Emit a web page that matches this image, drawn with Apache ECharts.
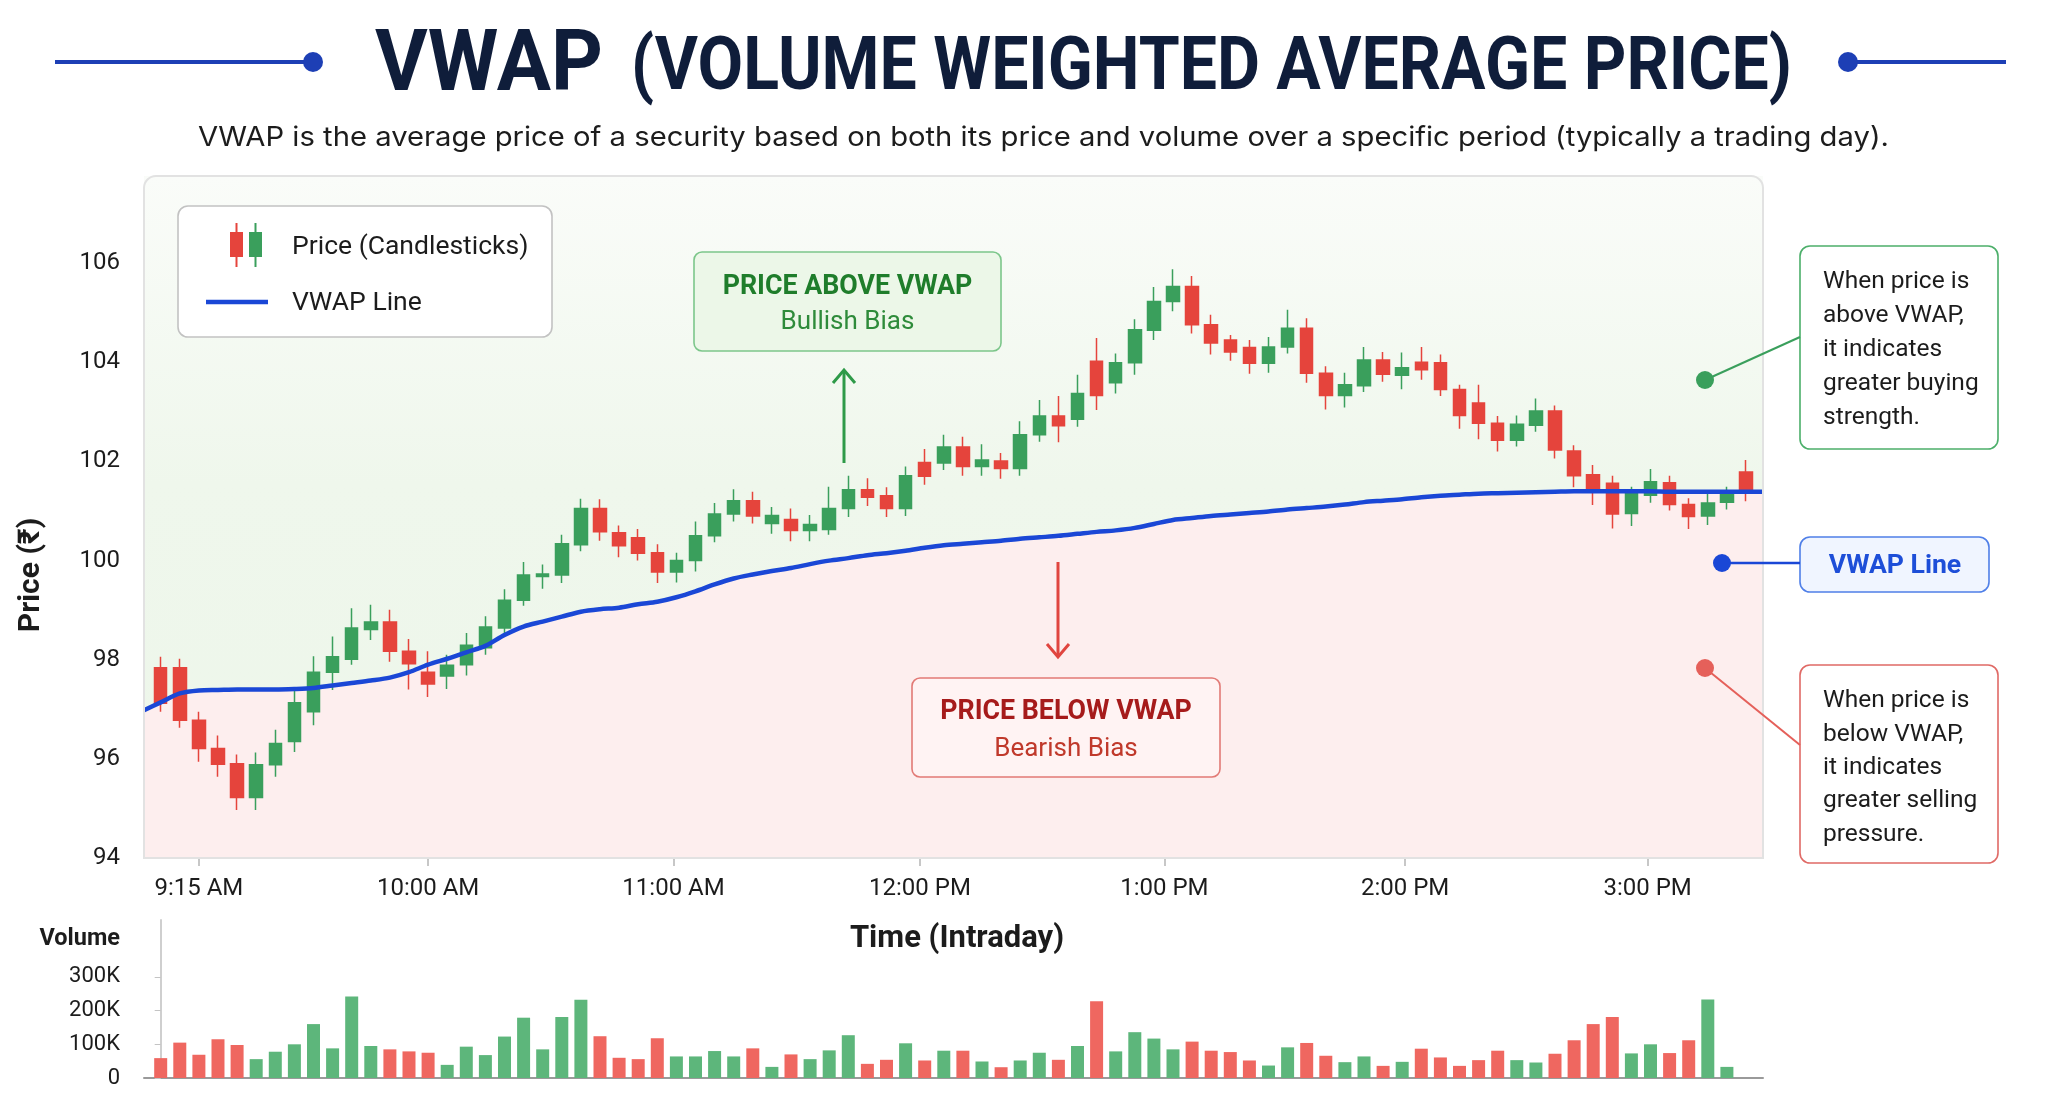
<!DOCTYPE html>
<html>
<head>
<meta charset="utf-8">
<title>VWAP</title>
<script src="https://cdn.jsdelivr.net/npm/echarts@6/dist/echarts.min.js"></script>
<style>
  html, body { margin: 0; padding: 0; background: #fff; }
  #chart { width: 2048px; height: 1098px; }
</style>
</head>
<body>
<div id="chart"></div>
<script>
// candles, one per slot (index 0 = first candle of the day)
var openP  = [97.84, 97.84, 96.78, 96.21, 95.90, 95.22, 95.88, 96.35, 96.95, 97.75,
              98.01, 98.61, 98.76, 98.17, 97.75, 97.67, 97.90, 98.24, 98.64, 99.20,
              99.68, 99.71, 100.32, 101.05, 100.56, 100.46, 100.16, 99.77, 100.00, 100.50,
              100.94, 101.21, 100.75, 100.83, 100.61, 100.63, 101.05, 101.43, 101.31, 101.05,
              101.98, 101.97, 102.29, 101.90, 102.01, 101.86, 102.54, 102.92, 102.85, 104.02,
              103.59, 103.99, 104.65, 105.23, 105.53, 104.76, 104.45, 104.30, 103.98, 104.31,
              104.69, 103.78, 103.33, 103.53, 104.05, 103.74, 104.00, 103.99, 103.45, 103.18,
              102.77, 102.43, 102.73, 103.02, 102.21, 101.73, 101.56, 100.95, 101.32, 101.57,
              101.13, 100.90, 101.18, 101.79];
var closeP = [97.12, 96.78, 96.21, 95.89, 95.22, 95.88, 96.31, 97.13, 97.75, 98.06,
              98.64, 98.76, 98.17, 97.92, 97.51, 97.89, 98.29, 98.66, 99.20, 99.71,
              99.73, 100.34, 101.05, 100.58, 100.30, 100.15, 99.77, 100.00, 100.50, 100.94,
              101.21, 100.90, 100.91, 100.61, 100.73, 101.05, 101.43, 101.28, 101.05, 101.71,
              101.70, 102.29, 101.90, 102.03, 101.86, 102.54, 102.92, 102.72, 103.37, 103.33,
              103.99, 104.66, 105.23, 105.53, 104.76, 104.39, 104.21, 103.98, 104.31, 104.69,
              103.78, 103.33, 103.55, 104.05, 103.76, 103.89, 103.85, 103.45, 102.93, 102.77,
              102.43, 102.75, 103.02, 102.23, 101.71, 101.39, 100.94, 101.37, 101.59, 101.13,
              100.89, 101.16, 101.37, 101.36];
var lowP   = [96.95, 96.63, 95.94, 95.64, 94.97, 94.97, 95.64, 96.14, 96.68, 97.39,
              97.90, 98.40, 97.96, 97.40, 97.25, 97.41, 97.68, 98.10, 98.49, 99.09,
              99.43, 99.55, 100.19, 100.40, 100.07, 100.00, 99.55, 99.56, 99.78, 100.37,
              100.79, 100.75, 100.54, 100.39, 100.39, 100.52, 100.88, 101.10, 100.88, 100.90,
              101.53, 101.83, 101.71, 101.71, 101.65, 101.71, 102.40, 102.39, 102.70, 103.04,
              103.37, 103.75, 104.45, 105.03, 104.58, 104.16, 104.03, 103.77, 103.79, 104.18,
              103.59, 103.05, 103.09, 103.40, 103.61, 103.46, 103.65, 103.32, 102.66, 102.45,
              102.20, 102.30, 102.60, 102.06, 101.48, 101.12, 100.65, 100.70, 101.17, 101.01,
              100.64, 100.72, 101.03, 101.20];
var highP  = [98.06, 98.02, 96.95, 96.47, 96.09, 96.13, 96.59, 97.45, 98.07, 98.47,
              99.04, 99.11, 99.01, 98.42, 98.17, 98.10, 98.54, 98.88, 99.42, 99.97,
              99.92, 100.52, 101.25, 101.24, 100.71, 100.64, 100.33, 100.16, 100.79, 101.16,
              101.44, 101.39, 101.08, 101.05, 100.92, 101.49, 101.71, 101.66, 101.48, 101.90,
              102.25, 102.54, 102.50, 102.35, 102.17, 102.81, 103.24, 103.32, 103.75, 104.49,
              104.18, 104.87, 105.52, 105.88, 105.74, 104.96, 104.55, 104.45, 104.51, 105.06,
              104.89, 103.92, 103.79, 104.31, 104.21, 104.20, 104.31, 104.16, 103.55, 103.55,
              102.92, 102.93, 103.27, 103.13, 102.33, 101.93, 101.71, 101.49, 101.85, 101.71,
              101.26, 101.36, 101.49, 102.03];

// running VWAP at each candle, plus its value at the left / right plot edges
var vwap = [97.14, 97.32, 97.38, 97.39, 97.40, 97.40, 97.40, 97.41, 97.43, 97.48,
            97.53, 97.58, 97.64, 97.75, 97.90, 98.02, 98.15, 98.28, 98.50, 98.67,
            98.77, 98.87, 98.97, 99.02, 99.05, 99.12, 99.17, 99.26, 99.38, 99.52,
            99.64, 99.72, 99.79, 99.85, 99.93, 100.00, 100.05, 100.11, 100.15, 100.20,
            100.26, 100.31, 100.34, 100.37, 100.40, 100.44, 100.47, 100.50, 100.54, 100.58,
            100.61, 100.66, 100.74, 100.82, 100.86, 100.90, 100.93, 100.96, 100.99, 101.03,
            101.06, 101.09, 101.13, 101.18, 101.21, 101.24, 101.28, 101.31, 101.33, 101.35,
            101.36, 101.37, 101.38, 101.39, 101.40, 101.40, 101.40, 101.40, 101.40, 101.39,
            101.39, 101.39, 101.39, 101.39];
var vwapEdges = [96.98, 101.39];

// volume in thousands (the last candle has no bar)
var volumeK = [59, 105, 69, 115, 98, 56, 78, 100, 160, 88,
               242, 95, 85, 79, 75, 39, 93, 68, 123, 179,
               85, 181, 232, 124, 60, 56, 118, 64, 64, 80,
               64, 88, 33, 70, 56, 82, 127, 42, 54, 103,
               52, 81, 81, 49, 32, 52, 75, 54, 95, 228,
               79, 136, 117, 85, 108, 81, 77, 52, 37, 91,
               104, 66, 47, 64, 36, 48, 87, 61, 36, 53,
               81, 53, 46, 72, 112, 160, 181, 73, 100, 74,
               112, 233, 33];

// time labels and where they sit (in candle slots)
var tickPos = [2.0, 14.0, 26.85, 39.75, 52.55, 65.15, 77.85];
var tickLabels = ['9:15 AM', '10:00 AM', '11:00 AM', '12:00 PM', '1:00 PM', '2:00 PM', '3:00 PM'];
var priceTicks = [94, 96, 98, 100, 102, 104, 106];
var volumeTicks = [0, 100000, 200000, 300000];

var FONT = 'Roboto, "Noto Sans", "DejaVu Sans", sans-serif';
var UP = '#3a9f5c', DOWN = '#e5443c';
var VOL_UP = '#5db67b', VOL_DOWN = '#ef6760';
var BLUE = '#1a47d6';
var NAVY = '#0f1d3a';
var XMIN = -0.874, XMAX = 83.89;

var chart = echarts.init(document.getElementById('chart'));

var candleData = openP.map(function (o, i) {
  return [i, o, closeP[i], lowP[i], highP[i]];
});
var vwapData = [[XMIN, vwapEdges[0]]]
  .concat(vwap.map(function (v, i) { return [i, v]; }))
  .concat([[XMAX, vwapEdges[1]]]);
var volData = volumeK.map(function (v, i) {
  return { value: [i, v * 1000], itemStyle: { color: closeP[i] >= openP[i] ? VOL_UP : VOL_DOWN } };
});

var measureCtx = document.createElement('canvas').getContext('2d');
function textWidth(s, font) {
  measureCtx.font = font;
  return measureCtx.measureText(s).width;
}

function txt(x, y, text, font, fill, align, extra) {
  var el = {
    type: 'text', x: x, y: y, z: 60,
    style: { text: text, font: font, fill: fill, align: align || 'center', verticalAlign: 'middle' }
  };
  if (extra) { for (var k in extra) el[k] = extra[k]; }
  return el;
}
// left-aligned text squeezed / stretched to a given width
function fitTxt(x, y, text, font, fill, width) {
  return txt(x, y, text, font, fill, 'left', { scaleX: width / textWidth(text, font) });
}
function box(x, y, w, h, fill, stroke, r) {
  return {
    type: 'rect', z: 55,
    shape: { x: x, y: y, width: w, height: h, r: r || 10 },
    style: { fill: fill, stroke: stroke, lineWidth: 1.6 }
  };
}
function seg(x1, y1, x2, y2, color, w) {
  return { type: 'line', z: 58, shape: { x1: x1, y1: y1, x2: x2, y2: y2 }, style: { stroke: color, lineWidth: w || 2 } };
}
function dot(cx, cy, r, color) {
  return { type: 'circle', z: 59, shape: { cx: cx, cy: cy, r: r }, style: { fill: color } };
}
function arrow(x, y1, y2, color) {
  var d = y2 < y1 ? 1 : -1;
  return [
    seg(x, y1, x, y2, color, 3),
    { type: 'polyline', z: 58, shape: { points: [[x - 11, y2 + 13 * d], [x, y2], [x + 11, y2 + 13 * d]] },
      style: { stroke: color, lineWidth: 3, fill: null } }
  ];
}

var graphics = [
  // title
  seg(55, 62, 305, 62, '#1d3fb5', 4), dot(313, 62, 10, '#1d3fb5'),
  dot(1848, 62, 10, '#1d3fb5'), seg(1856, 62, 2006, 62, '#1d3fb5', 4),
  fitTxt(375, 68, 'VWAP', 'bold 86px Roboto', NAVY, 228),
  fitTxt(631, 70, '(VOLUME WEIGHTED AVERAGE PRICE)', 'bold 74px Roboto', NAVY, 1161),
  fitTxt(198, 138, 'VWAP is the average price of a security based on both its price and volume over a specific period (typically a trading day).',
      '27px Inter, Roboto, sans-serif', '#1c1c1c', 1691),
  // plot card outline
  { type: 'rect', z: 40, shape: { x: 144, y: 176, width: 1619, height: 682, r: [12, 12, 0, 0] },
    style: { fill: null, stroke: '#e2e2e2', lineWidth: 2 } },
  // axis names
  txt(31, 575, 'Price (₹)', 'bold 30px ' + FONT, '#1c1c1c', 'center', { rotation: Math.PI / 2 }),
  txt(957, 939, 'Time (Intraday)', 'bold 31px ' + FONT, '#1c1c1c'),
  txt(120, 939.5, 'Volume', 'bold 23.5px ' + FONT, '#1c1c1c', 'right'),
  // legend
  box(178, 206, 374, 131, '#ffffff', '#c2c2c2', 10),
  seg(236.5, 223, 236.5, 267, DOWN, 2),
  { type: 'rect', z: 59, shape: { x: 230, y: 232, width: 13, height: 25 }, style: { fill: DOWN } },
  seg(255.5, 223, 255.5, 267, UP, 2),
  { type: 'rect', z: 59, shape: { x: 249, y: 232, width: 13, height: 25 }, style: { fill: UP } },
  txt(292, 247, 'Price (Candlesticks)', '26.5px ' + FONT, '#1c1c1c', 'left'),
  seg(206, 302, 268, 302, BLUE, 4.5),
  txt(292, 303, 'VWAP Line', '26.5px ' + FONT, '#1c1c1c', 'left'),
  // above / below call-outs
  box(694, 252, 307, 99, '#ecf7e8', '#7cc68a', 8),
  txt(847.5, 287, 'PRICE ABOVE VWAP', 'bold 26.8px ' + FONT, '#1f7d2b'),
  txt(847.5, 322.5, 'Bullish Bias', '26px ' + FONT, '#2e8b3a'),
  box(912, 678, 308, 99, '#fff3f3', '#e27a76', 8),
  txt(1066, 712, 'PRICE BELOW VWAP', 'bold 26.8px ' + FONT, '#a61b1b'),
  txt(1066, 749.5, 'Bearish Bias', '26px ' + FONT, '#c0392b'),
  // side notes
  seg(1705, 380, 1800, 337, '#3a9f5c', 2), dot(1705, 380, 9, '#3a9f5c'),
  box(1800, 246, 198, 203, '#ffffff', '#4caf6a', 10),
  seg(1722, 563, 1800, 563, BLUE, 2.5), dot(1722, 563, 9, BLUE),
  box(1800, 537, 189, 55, '#f0f5ff', '#4f7fe8', 10),
  txt(1895, 566.5, 'VWAP Line', 'bold 26.6px ' + FONT, '#1d4ed8'),
  seg(1705, 668, 1800, 745, '#e5605a', 2), dot(1705, 668, 9, '#e5605a'),
  box(1800, 665, 198, 198, '#ffffff', '#e06a66', 10)
];
['When price is', 'above VWAP,', 'it indicates', 'greater buying', 'strength.'].forEach(function (s, i) {
  graphics.push(txt(1823, 281.5 + i * 34, s, '24.5px ' + FONT, '#1c1c1c', 'left'));
});
['When price is', 'below VWAP,', 'it indicates', 'greater selling', 'pressure.'].forEach(function (s, i) {
  graphics.push(txt(1823, 701 + i * 33.4, s, '24.5px ' + FONT, '#1c1c1c', 'left'));
});
graphics = graphics.concat(arrow(844, 463, 370, '#2e9a48'), arrow(1058, 562, 657, '#e0453f'));

var option = {
  animation: false,
  backgroundColor: '#ffffff',
  textStyle: { fontFamily: FONT },
  grid: [
    { left: 144, width: 1619, top: 176, height: 682 },
    { left: 144, width: 1619, top: 920, height: 158 }
  ],
  xAxis: [
    {
      gridIndex: 0, type: 'value', min: XMIN, max: XMAX,
      axisLine: { show: true, onZero: false, lineStyle: { color: '#9a9a9a', width: 2 } },
      axisTick: { show: true, customValues: tickPos, length: 8, lineStyle: { color: '#b5b5b5', width: 1.5 } },
      axisLabel: {
        customValues: tickPos, margin: 19, fontSize: 24, color: '#1c1c1c', fontFamily: FONT,
        formatter: function (v) { var k = tickPos.indexOf(v); return k < 0 ? '' : tickLabels[k]; }
      },
      splitLine: { show: false }
    },
    {
      gridIndex: 1, type: 'value', min: XMIN, max: XMAX,
      axisLine: { show: true, onZero: false, lineStyle: { color: '#9a9a9a', width: 2 } },
      axisTick: { show: false }, axisLabel: { show: false }, splitLine: { show: false }
    }
  ],
  yAxis: [
    {
      gridIndex: 0, type: 'value', min: 94, max: 107.76,
      axisLine: { show: true, lineStyle: { color: '#cfcfcf', width: 2 } },
      axisTick: { show: true, customValues: priceTicks, length: 6, lineStyle: { color: '#c4c4c4' } },
      axisLabel: { customValues: priceTicks, margin: 24, fontSize: 24, color: '#1c1c1c', fontFamily: FONT },
      splitLine: { show: false }
    },
    {
      gridIndex: 1, type: 'value', min: 0, max: 469000,
      axisLine: { show: true, lineStyle: { color: '#cfcfcf', width: 2 } },
      axisTick: { show: true, customValues: volumeTicks, length: 6, lineStyle: { color: '#c4c4c4' } },
      axisLabel: {
        customValues: volumeTicks, margin: 24, fontSize: 22, color: '#1c1c1c', fontFamily: FONT,
        formatter: function (v) { return v === 0 ? '0' : (v / 1000) + 'K'; }
      },
      splitLine: { show: false }
    }
  ],
  graphic: graphics,
  series: [
    {
      name: 'above', type: 'line', xAxisIndex: 0, yAxisIndex: 0, z: 1, silent: true,
      data: [[XMIN, 107.76], [XMAX, 107.76]], symbol: 'none',
      lineStyle: { opacity: 0 },
      areaStyle: {
        origin: 'start', opacity: 1,
        color: new echarts.graphic.LinearGradient(0, 0, 0, 1, [
          { offset: 0, color: '#fafcf9' }, { offset: 0.45, color: '#eff7ec' }, { offset: 1, color: '#edf6ea' }
        ])
      }
    },
    {
      name: 'below', type: 'line', xAxisIndex: 0, yAxisIndex: 0, z: 2, silent: true,
      data: vwapData, smooth: 0.3, symbol: 'none',
      lineStyle: { opacity: 0 },
      areaStyle: { origin: 'start', opacity: 1, color: '#fdeeee' }
    },
    {
      name: 'Price (Candlesticks)', type: 'candlestick', xAxisIndex: 0, yAxisIndex: 0, z: 3,
      data: candleData, barWidth: 13,
      itemStyle: { color: UP, color0: DOWN, borderColor: UP, borderColor0: DOWN, borderWidth: 1.5 }
    },
    {
      name: 'VWAP Line', type: 'line', xAxisIndex: 0, yAxisIndex: 0, z: 4,
      data: vwapData, smooth: 0.3, symbol: 'none',
      lineStyle: { color: BLUE, width: 4.5 }
    },
    {
      name: 'Volume', type: 'bar', xAxisIndex: 1, yAxisIndex: 1, z: 3,
      data: volData, barWidth: 13
    }
  ]
};

chart.setOption(option);
</script>
</body>
</html>
